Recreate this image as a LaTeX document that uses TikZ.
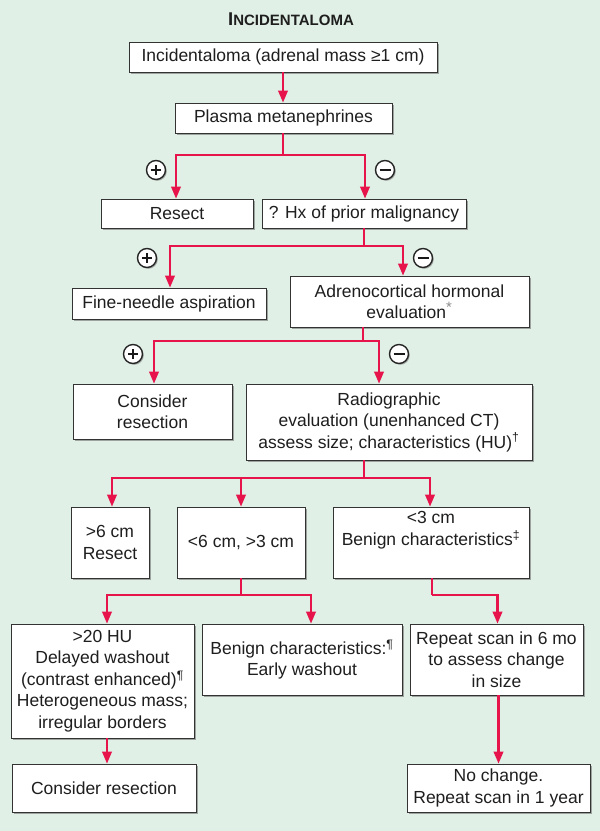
\documentclass[tikz,border=0pt]{standalone}
\usepackage{fontspec}
\setmainfont{Liberation Sans}
\usetikzlibrary{arrows.meta,shadows}
\definecolor{bgcol}{RGB}{225,240,230}
\definecolor{linecol}{RGB}{230,20,75}
\definecolor{txtcol}{RGB}{30,30,30}
\tikzset{
  box/.style={draw=black!80, fill=white, line width=0.8pt, inner sep=0pt, align=center,
    text=txtcol, font=\fontsize{17.5}{21.5}\selectfont,
    drop shadow={shadow xshift=2pt, shadow yshift=-2pt, fill=black!60, opacity=0.55}},
  conn/.style={draw=linecol, line width=2.1pt},
  arr/.style={conn, -{Triangle[length=12pt,width=9.5pt]}},
  pmsign/.style={circle, draw=black!85, fill=white, line width=1.4pt, minimum size=19pt, inner sep=0pt,
    drop shadow={shadow xshift=1.3pt, shadow yshift=-1.3pt, fill=black!60, opacity=0.5}},
  plus/.style={pmsign, path picture={\draw[line width=2.1pt, black!90] ([xshift=-5pt]path picture bounding box.center) -- ([xshift=5pt]path picture bounding box.center) ([yshift=-5pt]path picture bounding box.center) -- ([yshift=5pt]path picture bounding box.center);}},
  minus/.style={pmsign, path picture={\draw[line width=2.1pt, black!90] ([xshift=-5.5pt]path picture bounding box.center) -- ([xshift=5.5pt]path picture bounding box.center);}},
}
\begin{document}
\begin{tikzpicture}[x=1pt, y=-1pt]
\useasboundingbox (0,0) rectangle (600,831);
\fill[bgcol] (0,0) rectangle (600,831);

% title
\node[anchor=base, text=txtcol, inner sep=0pt] (title) at (291,25.5)
  {\bfseries{\fontsize{18.5}{18.5}\selectfont I}{\fontsize{15}{15}\selectfont NCIDENTALOMA}};

% boxes
\node[box, minimum width=308pt, minimum height=30pt] (b1) at (283,57) {Incidentaloma (adrenal mass ≥1 cm)};
\node[box, minimum width=217pt, minimum height=30pt] (b2) at (283.5,118) {Plasma metanephrines};
\node[box, minimum width=152pt, minimum height=29pt] (resect) at (177,213.5) {Resect};
\node[box, minimum width=204pt, minimum height=29pt] (hx) at (364,213.5) {? Hx of prior malignancy};
\node[box, minimum width=194pt, minimum height=31pt] (fna) at (169,303.5) {Fine-needle aspiration};
\node[box, minimum width=239pt, minimum height=51pt] (adr) at (409.5,301.5) {Adrenocortical hormonal\\evaluation\textsuperscript{\fontsize{15}{15}\selectfont\color{black!45}*}};
\node[box, minimum width=159pt, minimum height=55pt] (cons1) at (152.5,411.5) {Consider\\resection};
\node[box, minimum width=286pt, minimum height=76pt] (radio) at (389,422) {Radiographic\\evaluation (unenhanced CT)\\assess size; characteristics (HU)\textsuperscript{†}};
\node[box, minimum width=78pt, minimum height=71pt] (gt6) at (110,542.5) {>6 cm\\Resect};
\node[box, minimum width=128pt, minimum height=71pt] (lt6) at (241,542.5) {<6 cm, >3 cm};
\node[box, minimum width=196pt, minimum height=71pt] (lt3) at (431,542.5) {<3 cm\\Benign characteristics\textsuperscript{‡}\\\strut};
\node[box, minimum width=183pt, minimum height=114pt] (hu) at (102.5,681) {>20 HU\\Delayed washout\\(contrast enhanced)\textsuperscript{¶}\\Heterogeneous mass;\\irregular borders};
\node[box, minimum width=200pt, minimum height=71pt] (ben) at (302,659.5) {Benign characteristics:\textsuperscript{¶}\\Early washout};
\node[box, minimum width=173pt, minimum height=71pt] (rep) at (496.5,659.5) {Repeat scan in 6 mo\\to assess change\\in size};
\node[box, minimum width=184pt, minimum height=48pt] (cons2) at (104,788) {Consider resection};
\node[box, minimum width=183pt, minimum height=48pt] (noch) at (498.5,788) {No change.\\Repeat scan in 1 year};

% junction coordinates
\coordinate (j1) at (283,155);
\coordinate (j2) at (364,246);
\coordinate (j3) at (363,341);
\coordinate (j4) at (364,478);
\coordinate (j5) at (241,595);
\coordinate (j6) at (432,595);

% connectors
\draw[arr] (b1.south) -- (b1.south |- b2.north);
\draw[conn] (b2.south -| j1) -- (j1);
\draw[arr] (j1) -| ([xshift=-1pt]resect.north);
\draw[arr] (j1) -| ([xshift=1pt]hx.north);

\draw[conn] (hx.south -| j2) -- (j2);
\draw[arr] (j2) -| ([xshift=1pt]fna.north);
\draw[arr] (j2) -| ([xshift=-6.5pt]adr.north);

\draw[conn] (adr.south -| j3) -- (j3);
\draw[arr] (j3) -| ([xshift=1.5pt]cons1.north);
\draw[arr] (j3) -| ([xshift=-10pt]radio.north);

\draw[conn] (radio.south -| j4) -- (j4);
\draw[arr] (j4) -| ([xshift=2pt]gt6.north);
\draw[arr] (j4) -| ([xshift=-1pt]lt3.north);
\draw[arr] (lt6.north |- j4) -- (lt6.north);

\draw[conn] (lt6.south -| j5) -- (j5);
\draw[arr] (j5) -| ([xshift=4.5pt]hu.north);
\draw[arr] (j5) -| ([xshift=9pt]ben.north);

\draw[conn] (lt3.south -| j6) -- (j6);
\draw[arr] (j6) -| ([xshift=1pt]rep.north);

\draw[arr] ([xshift=4.5pt]hu.south) -- ([xshift=4.5pt]hu.south |- cons2.north);
\draw[arr] (rep.south -| noch.north) -- (noch.north);

% plus / minus signs
\node[plus]  (p1) at (156,170) {};
\node[minus] (m1) at (385,170) {};
\node[plus]  (p2) at (147,258) {};
\node[minus] (m2) at (423,258) {};
\node[plus]  (p3) at (133,354) {};
\node[minus] (m3) at (399,354) {};
\end{tikzpicture}
\end{document}
